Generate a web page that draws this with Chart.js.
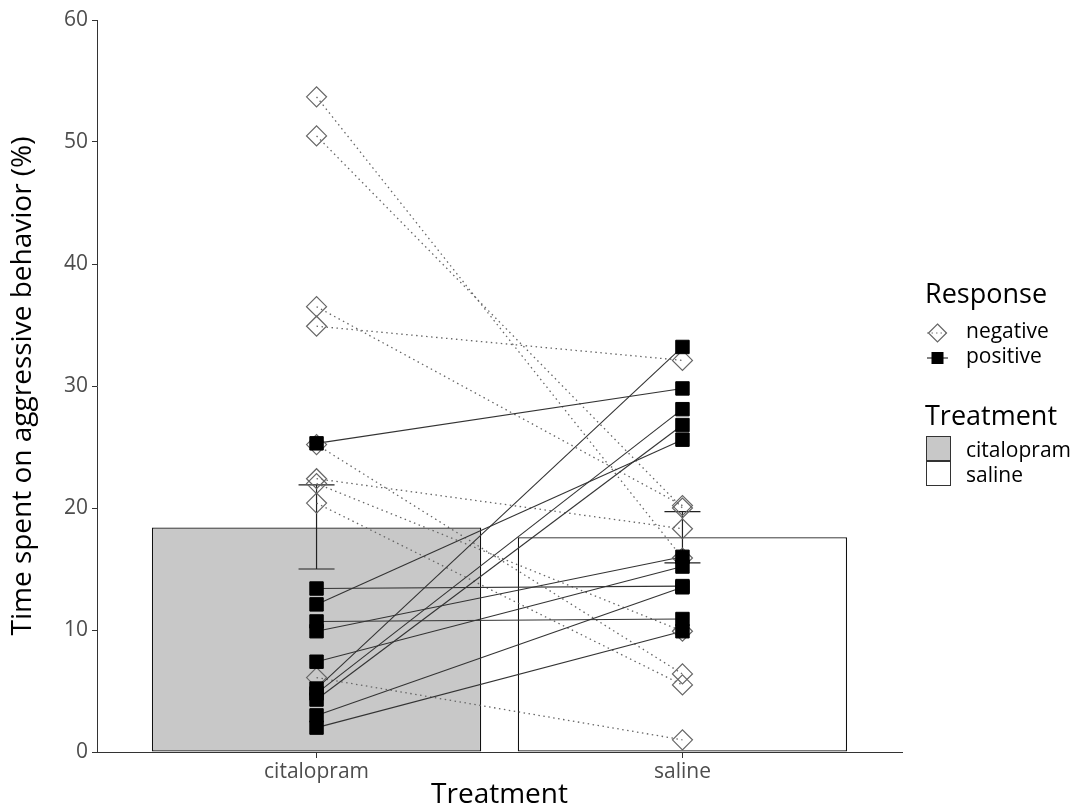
<!DOCTYPE html>
<html>
<head>
<meta charset="utf-8">
<script src="https://cdn.jsdelivr.net/npm/chart.js@4.4.1/dist/chart.umd.min.js"></script>
<style>
  html, body { margin: 0; padding: 0; background: #fff; }
</style>
</head>
<body>
<canvas id="chart" width="1078" height="807"></canvas>
<script>
// values
const treatments = ['citalopram', 'saline'];
const barMeans = [18.4, 17.6];
const errLow = [15.0, 15.5];
const errHigh = [21.9, 19.7];

// paired animals, negative responders (citalopram -> saline)
const negCitalopram = [53.7, 50.5, 36.5, 34.9, 25.2, 22.4, 22.0, 20.4, 6.1];
const negSaline     = [15.9, 20.0, 20.2, 32.1, 6.4, 18.3, 9.9, 5.5, 1.0];

// paired animals, positive responders
const posCitalopram = [25.3, 13.4, 12.1, 10.7, 9.9, 7.4, 5.2, 4.8, 4.3, 3.0, 2.0];
const posSaline     = [29.8, 13.6, 25.6, 10.9, 16.0, 15.2, 33.2, 28.1, 26.8, 13.5, 9.9];

const yTicks = [0, 10, 20, 30, 40, 50, 60];

const FONT = "'Open Sans', 'Noto Sans', sans-serif";
const TICK_COLOR = '#4d4d4d';

var datasets = [];

// bars
datasets.push({
    type: 'bar',
    data: barMeans.map((v, i) => ({ x: i + 1, y: v })),
    backgroundColor: ['#c8c8c8', '#ffffff'],
    borderColor: '#111',
    borderWidth: 1.3,
    borderSkipped: false,
    barPercentage: 0.9,
    categoryPercentage: 1.0,
    order: 10
});

// paired lines
negCitalopram.forEach((v, i) => {
    datasets.push({
        type: 'line',
        data: [{ x: 1, y: v }, { x: 2, y: negSaline[i] }],
        borderColor: '#666',
        borderWidth: 1.3,
        borderDash: [1.5, 3.5],
        pointRadius: 0,
        fill: false,
        order: 5
    });
});
posCitalopram.forEach((v, i) => {
    datasets.push({
        type: 'line',
        data: [{ x: 1, y: v }, { x: 2, y: posSaline[i] }],
        borderColor: '#333',
        borderWidth: 1.1,
        pointRadius: 0,
        fill: false,
        order: 4
    });
});

// points
datasets.push({
    type: 'scatter',
    data: negCitalopram.map(v => ({ x: 1, y: v })).concat(negSaline.map(v => ({ x: 2, y: v }))),
    pointStyle: 'rectRot',
    pointRadius: 10,
    pointBorderColor: '#666',
    pointBackgroundColor: 'rgba(0,0,0,0)',
    pointBorderWidth: 1.2,
    order: 2
});
datasets.push({
    type: 'scatter',
    data: posCitalopram.map(v => ({ x: 1, y: v })).concat(posSaline.map(v => ({ x: 2, y: v }))),
    pointStyle: 'rect',
    pointRadius: 9.5,
    pointBorderColor: '#000',
    pointBackgroundColor: '#000',
    pointBorderWidth: 1,
    order: 1
});

// error bars, drawn right after the bars
const errorBars = {
    id: 'errorBars',
    afterDatasetDraw(chart, args) {
        if (args.index !== 0) return;
        const ctx = chart.ctx, xs = chart.scales.x, ys = chart.scales.y;
        ctx.save();
        ctx.strokeStyle = '#222';
        ctx.lineWidth = 1.2;
        treatments.forEach((t, i) => {
            const px = xs.getPixelForValue(i + 1);
            const lo = ys.getPixelForValue(errLow[i]);
            const hi = ys.getPixelForValue(errHigh[i]);
            const cap = 18;
            ctx.beginPath();
            ctx.moveTo(px, lo); ctx.lineTo(px, hi);
            ctx.moveTo(px - cap, lo); ctx.lineTo(px + cap, lo);
            ctx.moveTo(px - cap, hi); ctx.lineTo(px + cap, hi);
            ctx.stroke();
        });
        ctx.restore();
    }
};

// two-part legend on the right
const sideLegend = {
    id: 'sideLegend',
    afterDraw(chart) {
        const ctx = chart.ctx;
        ctx.save();
        ctx.fillStyle = '#000';
        ctx.textAlign = 'left';
        ctx.textBaseline = 'alphabetic';
        ctx.font = '27px ' + FONT;
        ctx.fillText('Response', 925, 303);
        ctx.fillText('Treatment', 925, 425);

        ctx.font = '21px ' + FONT;
        ctx.textBaseline = 'middle';
        ctx.fillText('negative', 966, 332);
        ctx.fillText('positive', 966, 357);
        ctx.fillText('citalopram', 966, 451);
        ctx.fillText('saline', 966, 476);

        // negative key
        ctx.strokeStyle = '#777';
        ctx.lineWidth = 1.2;
        ctx.setLineDash([1.5, 3]);
        ctx.beginPath(); ctx.moveTo(927, 333); ctx.lineTo(948, 333); ctx.stroke();
        ctx.setLineDash([]);
        ctx.strokeStyle = '#666';
        ctx.beginPath();
        ctx.moveTo(937.5, 324); ctx.lineTo(946.5, 333); ctx.lineTo(937.5, 342); ctx.lineTo(928.5, 333);
        ctx.closePath(); ctx.stroke();

        // positive key
        ctx.strokeStyle = '#333';
        ctx.beginPath(); ctx.moveTo(927, 358); ctx.lineTo(948, 358); ctx.stroke();
        ctx.fillStyle = '#000';
        ctx.fillRect(931.5, 352, 12, 12);

        // treatment keys
        ctx.strokeStyle = '#333';
        ctx.lineWidth = 1;
        ctx.fillStyle = '#c8c8c8';
        ctx.fillRect(926.5, 436.5, 24, 24);
        ctx.strokeRect(926.5, 436.5, 24, 24);
        ctx.fillStyle = '#fff';
        ctx.fillRect(926.5, 461.5, 24, 24);
        ctx.strokeRect(926.5, 461.5, 24, 24);
        ctx.restore();
    }
};

new Chart(document.getElementById('chart'), {
    type: 'bar',
    data: { datasets: datasets },
    options: {
        responsive: false,
        animation: false,
        layout: { padding: { top: 20, right: 176, left: 0, bottom: 0 } },
        plugins: {
            legend: { display: false },
            tooltip: { enabled: false }
        },
        scales: {
            x: {
                type: 'linear',
                min: 0.4,
                max: 2.6,
                offset: false,
                afterBuildTicks: s => { s.ticks = treatments.map((t, i) => ({ value: i + 1 })); },
                afterFit: s => { s.height = 55; },
                ticks: {
                    callback: v => treatments[v - 1],
                    color: TICK_COLOR,
                    font: { family: FONT, size: 21 },
                    padding: 1,
                    maxRotation: 0
                },
                grid: { drawOnChartArea: false, offset: false, tickLength: 6, color: '#333' },
                border: { display: true, color: '#333', width: 1 },
                title: {
                    display: true,
                    text: 'Treatment',
                    color: '#000',
                    font: { family: FONT, size: 28 },
                    padding: { top: 0, bottom: -5 }
                }
            },
            y: {
                min: 0,
                max: 60,
                afterBuildTicks: s => { s.ticks = yTicks.map(v => ({ value: v })); },
                afterFit: s => { s.width = 97; },
                ticks: {
                    color: TICK_COLOR,
                    font: { family: FONT, size: 21 },
                    padding: 4
                },
                grid: { drawOnChartArea: false, tickLength: 5, color: '#333' },
                border: { display: true, color: '#333', width: 1 },
                title: {
                    display: true,
                    text: 'Time spent on aggressive behavior (%)',
                    color: '#000',
                    font: { family: FONT, size: 28 },
                    padding: { top: 6, bottom: 0 }
                }
            }
        }
    },
    plugins: [errorBars, sideLegend]
});
</script>
</body>
</html>
